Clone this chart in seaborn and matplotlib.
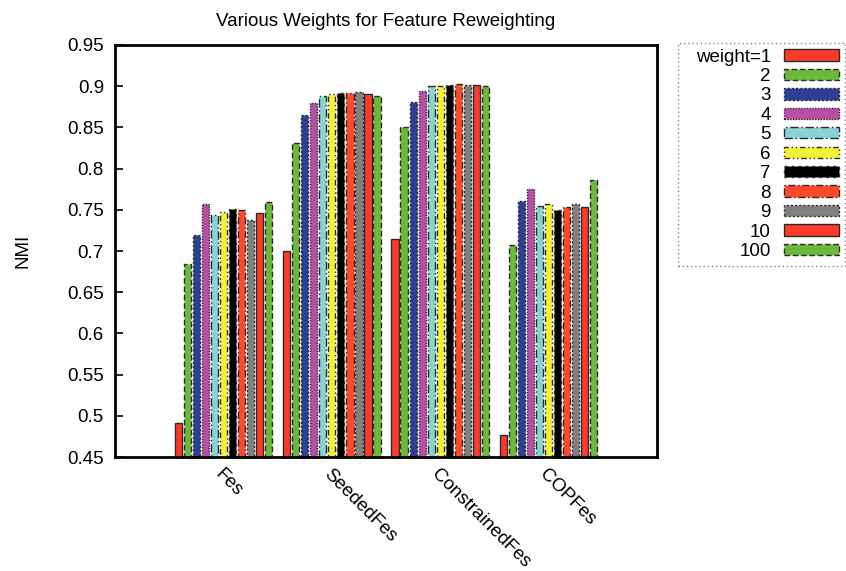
import matplotlib
matplotlib.use("Agg")
import matplotlib.pyplot as plt
import seaborn as sns
import pandas as pd

# NMI scores per method for each feature weight
methods = ["Fes", "SeededFes", "ConstrainedFes", "COPFes"]
weights = ["weight=1", "2", "3", "4", "5", "6", "7", "8", "9", "10", "100"]
nmi_fes = [0.491, 0.684, 0.719, 0.757, 0.744, 0.747, 0.751, 0.750, 0.738, 0.746, 0.760]
nmi_seeded = [0.700, 0.831, 0.865, 0.880, 0.888, 0.890, 0.892, 0.892, 0.893, 0.891, 0.888]
nmi_constrained = [0.715, 0.851, 0.881, 0.894, 0.900, 0.900, 0.902, 0.903, 0.902, 0.902, 0.900]
nmi_copfes = [0.477, 0.707, 0.761, 0.775, 0.755, 0.757, 0.750, 0.754, 0.757, 0.754, 0.786]
yticks = [0.45, 0.5, 0.55, 0.6, 0.65, 0.7, 0.75, 0.8, 0.85, 0.9, 0.95]
ytick_labels = ["0.45", "0.5", "0.55", "0.6", "0.65", "0.7", "0.75",
                "0.8", "0.85", "0.9", "0.95"]

colors = ["#ff3a2a", "#6cb83a", "#2e3f98", "#b94ea6", "#88d4d2", "#f1f13a",
          "#000000", "#ff4a2a", "#808080", "#ff3a2a", "#6cb83a"]
edge_styles = ["-", (0, (4, 2)), (0, (1.5, 1.5)), (0, (1, 1)), (0, (6, 2, 1, 2)),
               (0, (4, 2, 1, 2, 1, 2)), (0, (2, 3)), (0, (5, 2, 1, 2)), (0, (1.5, 1.5)),
               "-", (0, (4, 2))]

rows = []
for m, vals in zip(methods, [nmi_fes, nmi_seeded, nmi_constrained, nmi_copfes]):
    for w, v in zip(weights, vals):
        rows.append({"method": m, "weight": w, "NMI": v})
df = pd.DataFrame(rows)

sns.set_theme(style="white")
plt.rcParams["font.family"] = ["Liberation Sans", "DejaVu Sans"]
plt.rcParams.update({"text.color": "black", "axes.labelcolor": "black",
                     "xtick.color": "black", "ytick.color": "black"})
FS = 13.5

fig = plt.figure(figsize=(8.46, 5.71), dpi=100)
ax = fig.add_axes([0.136, 0.1996, 0.6406, 0.7216])

sns.barplot(data=df, x="method", y="NMI", hue="weight", order=methods,
            hue_order=weights, palette=colors, saturation=1, width=11 / 12, gap=0.2,
            edgecolor="#2a2a2a", linewidth=1.0, ax=ax, legend=False)

for cont, ls in zip(ax.containers, edge_styles):
    for p in cont.patches:
        p.set_linestyle(ls)

ax.set_xlim(-1, 4)
ax.set_ylim(0.45, 0.95)
ax.set_yticks(yticks)
ax.set_yticklabels(ytick_labels, fontsize=FS)
ax.tick_params(axis="y", direction="in", length=6, width=1.2, left=True, right=False,
               pad=8, colors="black")
ax.tick_params(axis="x", length=0, pad=6, colors="black")
ax.set_xticks(range(len(methods)))
ax.set_xticklabels(methods, rotation=-45, ha="left", va="top",
                   rotation_mode="anchor", fontsize=FS)
ax.set_xlabel("")
ax.set_ylabel("NMI", fontsize=FS)
ax.yaxis.set_label_coords(-0.154, 0.5)
for s in ax.spines.values():
    s.set_visible(True)
    s.set_color("black")
    s.set_linewidth(2)
ax.set_title("Various Weights for Feature Reweighting", fontsize=FS, pad=14)

# handles on the right; with markerfirst=False the entries are right-aligned,
# and the whole block of entries sits against the right edge of the frame
handles = [cont.patches[0] for cont in ax.containers]
leg = fig.legend(handles, weights, loc="upper left",
                 bbox_to_anchor=(0.8014, 0.5412, 0.1974, 0.3835), mode="expand",
                 alignment="right",
                 bbox_transform=fig.transFigure, borderaxespad=0, markerfirst=False,
                 handlelength=2.95, handleheight=0.55, labelspacing=0.13,
                 fontsize=FS, fancybox=False, borderpad=0.3, handletextpad=0.7)
leg._legend_handle_box.mode = "fixed"
frame = leg.get_frame()
frame.set_edgecolor("#5a6a9a")
frame.set_linestyle((0, (1, 2)))
frame.set_linewidth(1.0)

fig.savefig("out.png", dpi=100)
